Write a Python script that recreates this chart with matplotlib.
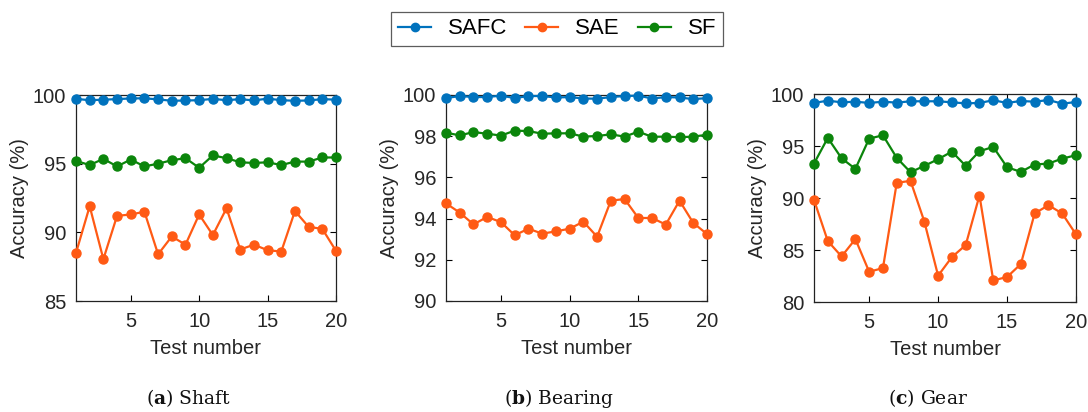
import matplotlib
matplotlib.use("Agg")
import matplotlib.pyplot as plt
from matplotlib.lines import Line2D

tests = list(range(1, 21))
methods = ["SAFC", "SAE", "SF"]
colors = {"SAFC": "#0072BD", "SAE": "#FF5A14", "SF": "#0B850B"}

shaft_safc = [99.72, 99.62, 99.66, 99.70, 99.75, 99.76, 99.68, 99.58, 99.60, 99.62,
              99.72, 99.62, 99.70, 99.60, 99.74, 99.62, 99.58, 99.60, 99.70, 99.66]
shaft_sae = [88.5, 91.9, 88.05, 91.2, 91.3, 91.5, 88.4, 89.7, 89.1, 91.3,
             89.8, 91.75, 88.75, 89.1, 88.7, 88.6, 91.55, 90.4, 90.25, 88.65]
shaft_sf = [95.2, 94.9, 95.35, 94.8, 95.3, 94.8, 95.0, 95.25, 95.4, 94.7,
            95.6, 95.4, 95.1, 95.05, 95.1, 94.9, 95.15, 95.15, 95.45, 95.45]

bearing_safc = [99.85, 99.95, 99.9, 99.9, 99.97, 99.85, 99.95, 99.95, 99.88, 99.9,
                99.83, 99.82, 99.9, 99.95, 99.97, 99.83, 99.9, 99.88, 99.8, 99.85]
bearing_sae = [94.74, 94.29, 93.72, 94.08, 93.83, 93.19, 93.51, 93.27, 93.38, 93.51,
               93.85, 93.12, 94.87, 94.95, 94.03, 94.03, 93.71, 94.87, 93.79, 93.25]
bearing_sf = [98.17, 98.04, 98.2, 98.12, 98.03, 98.27, 98.25, 98.12, 98.14, 98.14,
              97.98, 98.01, 98.09, 97.98, 98.22, 97.97, 97.98, 97.95, 97.98, 98.07]

gear_safc = [99.14, 99.36, 99.2, 99.26, 99.14, 99.26, 99.17, 99.3, 99.3, 99.3,
             99.2, 99.1, 99.14, 99.4, 99.14, 99.33, 99.26, 99.42, 99.07, 99.23]
gear_sae = [89.82, 85.86, 84.38, 86.05, 82.91, 83.26, 91.46, 91.65, 87.74, 82.53,
            84.32, 85.47, 90.24, 82.08, 82.4, 83.65, 88.51, 89.31, 88.51, 86.5]
gear_sf = [93.31, 95.78, 93.82, 92.8, 95.71, 96.03, 93.86, 92.48, 93.09, 93.73,
           94.46, 93.09, 94.5, 94.91, 92.96, 92.51, 93.22, 93.31, 93.79, 94.11]

panels = [
    ("a", "Shaft", [shaft_safc, shaft_sae, shaft_sf], (85, 100), [85, 90, 95, 100]),
    ("b", "Bearing", [bearing_safc, bearing_sae, bearing_sf], (90, 100), [90, 92, 94, 96, 98, 100]),
    ("c", "Gear", [gear_safc, gear_sae, gear_sf], (80, 100), [80, 85, 90, 95, 100]),
]

plt.rcParams["font.family"] = ["Liberation Sans", "DejaVu Sans"]
plt.rcParams["mathtext.fontset"] = "custom"
plt.rcParams["mathtext.rm"] = "DejaVu Serif"
plt.rcParams["mathtext.bf"] = "DejaVu Serif:bold"
txt = "#262626"
fs = 14.5

fig = plt.figure(figsize=(10.88, 4.12), dpi=100)
W, H = 1088, 412
boxes = [(76, 95, 260, 206), (446, 95, 261, 206), (814, 94, 262, 208)]

for (letter, name, series, ylim, yticks), (x0, y0, w, h) in zip(panels, boxes):
    ax = fig.add_axes([x0 / W, 1 - (y0 + h) / H, w / W, h / H])
    for m, vals in zip(methods, series):
        ax.plot(tests, vals, "-o", color=colors[m], lw=1.6, ms=6.5, clip_on=False, zorder=3)
    ax.set_xlim(1, 20)
    ax.set_ylim(*ylim)
    ax.set_xticks([5, 10, 15, 20])
    ax.set_yticks(yticks)
    ax.tick_params(direction="in", length=4, labelsize=fs, top=True, right=True,
                   labeltop=False, labelright=False, width=0.8)
    ax.tick_params(axis="x", pad=8)
    ax.tick_params(axis="y", pad=7)
    for t in ax.get_xticklabels() + ax.get_yticklabels():
        t.set_color(txt)
    for s in ax.spines.values():
        s.set_color("#222222")
        s.set_linewidth(0.9)
    ax.set_xlabel("Test number", fontsize=fs, color=txt, labelpad=6)
    ax.set_ylabel("Accuracy (%)", fontsize=fs, color=txt, labelpad=3)
    cx = (x0 + w / 2 - 17) / W
    fig.text(cx, 1 - 398 / H, r"($\mathbf{" + letter + r"}$) " + name, ha="center", va="center",
             fontsize=13.5, family="DejaVu Serif", color="#111111")

handles = [Line2D([], [], color=colors[m], marker="o", lw=1.6, ms=6) for m in methods]
leg = fig.legend(handles, methods, loc="center", bbox_to_anchor=(557 / W, 1 - 29 / H), ncol=3,
                 fontsize=16, frameon=True, fancybox=False, edgecolor="#333333",
                 handlelength=1.5, handletextpad=0.75, columnspacing=0.8, borderpad=0.3)
leg.get_frame().set_linewidth(0.9)

fig.savefig("out.png", dpi=100)
